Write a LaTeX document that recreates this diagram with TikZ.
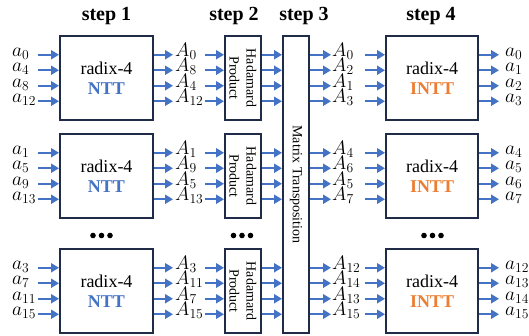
\RequirePackage{fix-cm}
\documentclass[tikz,border=0pt]{standalone}
\usepackage{fontspec}
\setmainfont{Liberation Serif}
\usetikzlibrary{arrows.meta}
\definecolor{arrblue}{HTML}{4472C4}
\definecolor{inttorange}{HTML}{ED7D31}
\definecolor{navy}{HTML}{1F2B47}
\begin{document}
\begin{tikzpicture}[x=1pt,y=-1pt,
  blk/.style={draw=navy,line width=2pt,fill=white,inner sep=0pt,align=center},
  arr/.style={arrblue,line width=2.4pt,-{Triangle[length=8pt,width=9pt]}},
  lbl/.style={anchor=base west,inner sep=0pt,font=\fontsize{19.5}{20}\selectfont},
  ttl/.style={anchor=base,inner sep=0pt,font=\fontsize{20}{22}\selectfont\bfseries},
  big/.style={font=\fontsize{18}{20}\selectfont},
  small/.style={font=\fontsize{14}{17}\selectfont,align=center,inner sep=0pt},
]
\useasboundingbox (0,0) rectangle (529,335);

% titles
\node[ttl] (t1) at (106.5,20) {step 1};
\node[ttl] (t2) at (234,20) {step 2};
\node[ttl] (t3) at (304,20) {step 3};
\node[ttl] (t4) at (431,20) {step 4};

% step 3 box
\node[blk,minimum width=26,minimum height=297] (s3) at (296,184.5) {};
\node[small,rotate=-90] (s3t) at (s3.center) {Matrix Transposition};

% groups
\foreach \g/\top in {a/36,b/134,c/249}{
  \node[blk,big,minimum width=93,minimum height=84] (s1\g) at (106.5,\top+42)
    {radix-4\\\textcolor{arrblue}{\bfseries NTT}};
  \node[blk,minimum width=36,minimum height=84] (s2\g) at (243,\top+42) {};
  \node[small,rotate=-90] (s2\g t) at (s2\g.center) {Hadamard\\Product};
  \node[blk,big,minimum width=92,minimum height=84] (s4\g) at (432,\top+42)
    {radix-4\\\textcolor{inttorange}{\bfseries INTT}};
  \foreach \o [count=\i] in {18.75,34.25,49.75,65.25}{
    \coordinate (r\g\i) at (0,\top+\o);
    \coordinate (p\g\i) at (38,\top+\o);
    \coordinate (q\g\i) at (173,\top+\o);
    \coordinate (u\g\i) at (205,\top+\o);
    \coordinate (v\g\i) at (331,\top+\o);
    \coordinate (w\g\i) at (365,\top+\o);
    \coordinate (z\g\i) at (499,\top+\o);
    \draw[arr] (p\g\i) -- (s1\g.west |- r\g\i);
    \draw[arr] (s1\g.east |- r\g\i) -- (q\g\i);
    \draw[arr] (u\g\i) -- (s2\g.west |- r\g\i);
    \draw[arr] (s2\g.east |- r\g\i) -- (s3.west |- r\g\i);
    \draw[arr] (s3.east |- r\g\i) -- (v\g\i);
    \draw[arr] (w\g\i) -- (s4\g.west |- r\g\i);
    \draw[arr] (s4\g.east |- r\g\i) -- (z\g\i);
  }
}

% labels
\foreach \g/\top/\la/\lb/\lc/\ld in {
  a/36/{0,4,8,12}/{0,8,4,12}/{0,2,1,3}/{0,1,2,3},
  b/134/{1,5,9,13}/{1,9,5,13}/{4,6,5,7}/{4,5,6,7},
  c/249/{3,7,11,15}/{3,11,7,15}/{12,14,13,15}/{12,13,14,15}}{
  \foreach \n [count=\i] in \la {\node[lbl] (la\g\i) at (12,\top+4.75+15.5*\i) {$a_{\n}$};}
  \foreach \n [count=\i] in \lb {\node[lbl] (lb\g\i) at (175,\top+4.75+15.5*\i) {$A_{\n}$};}
  \foreach \n [count=\i] in \lc {\node[lbl] (lc\g\i) at (332,\top+4.75+15.5*\i) {$A_{\n}$};}
  \foreach \n [count=\i] in \ld {\node[lbl] (ld\g\i) at (505,\top+4.75+15.5*\i) {$a_{\n}$};}
}

% ellipsis dots
\foreach \cx in {101.5,242,432.5}{
  \foreach \d in {-8.5,0,8.5}{\fill (\cx+\d,235.5) circle (2.8);}
}
\end{tikzpicture}
\end{document}
